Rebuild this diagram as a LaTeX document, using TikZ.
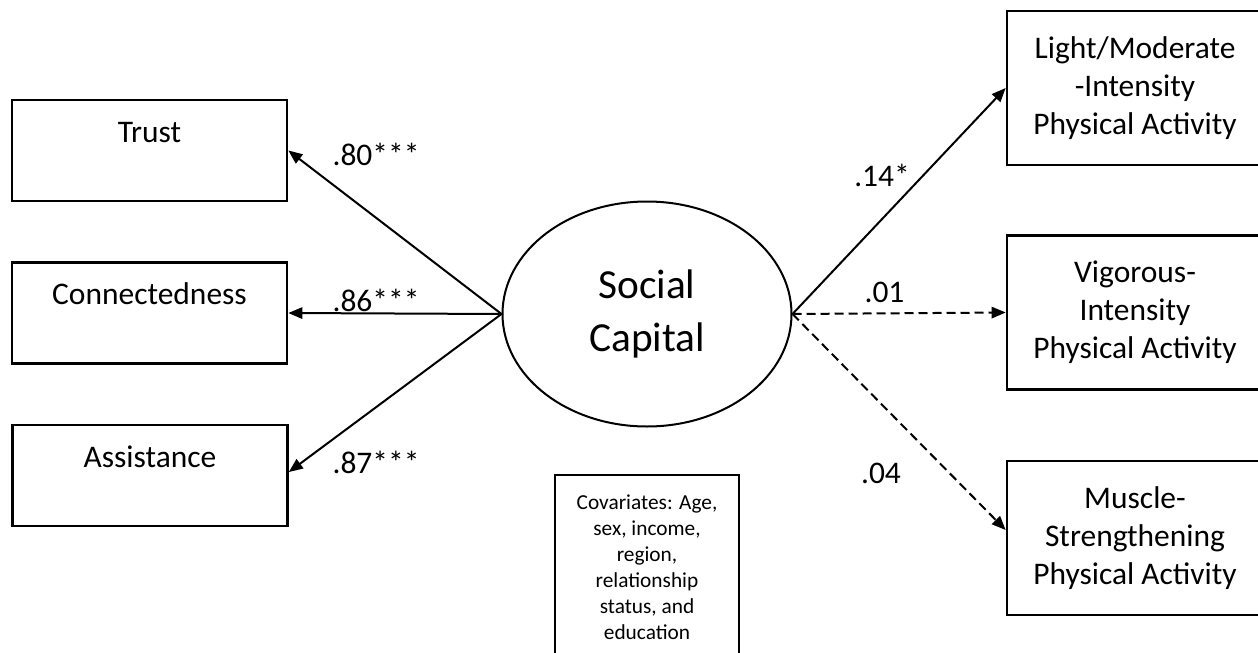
\documentclass[tikz,border=0pt]{standalone}
\usepackage{fontspec}
\setmainfont{Carlito}
\usetikzlibrary{shapes.geometric,arrows.meta}
\begin{document}
\begin{tikzpicture}[x=0.75pt,y=-0.75pt,
  leftbox/.style={draw,line width=2pt,minimum width=206.25pt,minimum height=75.75pt,inner sep=0pt,
    font=\fontsize{23.6}{28.5}\selectfont,text height=15pt,text depth=27.75pt},
  rightbox/.style={draw,line width=2pt,minimum width=192pt,minimum height=115.5pt,inner sep=0pt,
    align=center,font=\fontsize{23.6}{28.5}\selectfont},
  latent/.style={draw,ellipse,line width=1.5pt,minimum width=216.75pt,minimum height=168.75pt,
    inner sep=0pt,align=center,font=\fontsize{31}{39.75}\selectfont},
  covbox/.style={draw,line width=2pt,minimum width=138pt,minimum height=138pt,inner sep=0pt,
    align=center,font=\fontsize{16}{19.5}\selectfont},
  coef/.style={font=\fontsize{23.6}{28.5}\selectfont,inner sep=0pt},
  link/.style={line width=1.5pt,-{Triangle[length=10.5pt,width=8.5pt]}},
  nslink/.style={link,dash pattern=on 6.75pt off 3.75pt}
]
\clip (0,0) rectangle (1258,653);
\fill[white] (0,0) rectangle (1258,653);

\node[leftbox] (trust) at (149.5,150.5) {Trust};
\node[leftbox] (conn) at (149.5,313) {Connectedness};
\node[leftbox] (assist) at (150,475.5) {Assistance};

\node[latent] (sc) at (647,314) {Social\\Capital};

\node[rightbox] (light) at (1135,88) {Light/Moderate\\-Intensity\\Physical Activity};
\node[rightbox] (vig) at (1135,312.5) {Vigorous-\\Intensity\\Physical Activity};
\node[rightbox] (mus) at (1135,538) {Muscle-\\Strengthening\\Physical Activity};

\node[covbox] (cov) at (647,567) {Covariates: Age,\\sex, income,\\region,\\relationship\\status, and\\education};

\draw[link] (sc.west) -- (trust.east);
\draw[link] (sc.west) -- (conn.east);
\draw[link] (sc.west) -- ([yshift=2.6pt]assist.east);
\draw[link] (sc.east) -- (light.west);
\draw[nslink] (sc.east) -- (vig.west);
\draw[nslink] (sc.east) -- ([yshift=6pt]mus.west);

\node[coef] (c80) at (376,154) {.80***};
\node[coef] (c86) at (376,300) {.86***};
\node[coef] (c87) at (376,462) {.87***};
\node[coef] (c14) at (882,175) {.14*};
\node[coef] (c01) at (884.5,292) {.01};
\node[coef] (c04) at (881,473) {.04};
\end{tikzpicture}
\end{document}
